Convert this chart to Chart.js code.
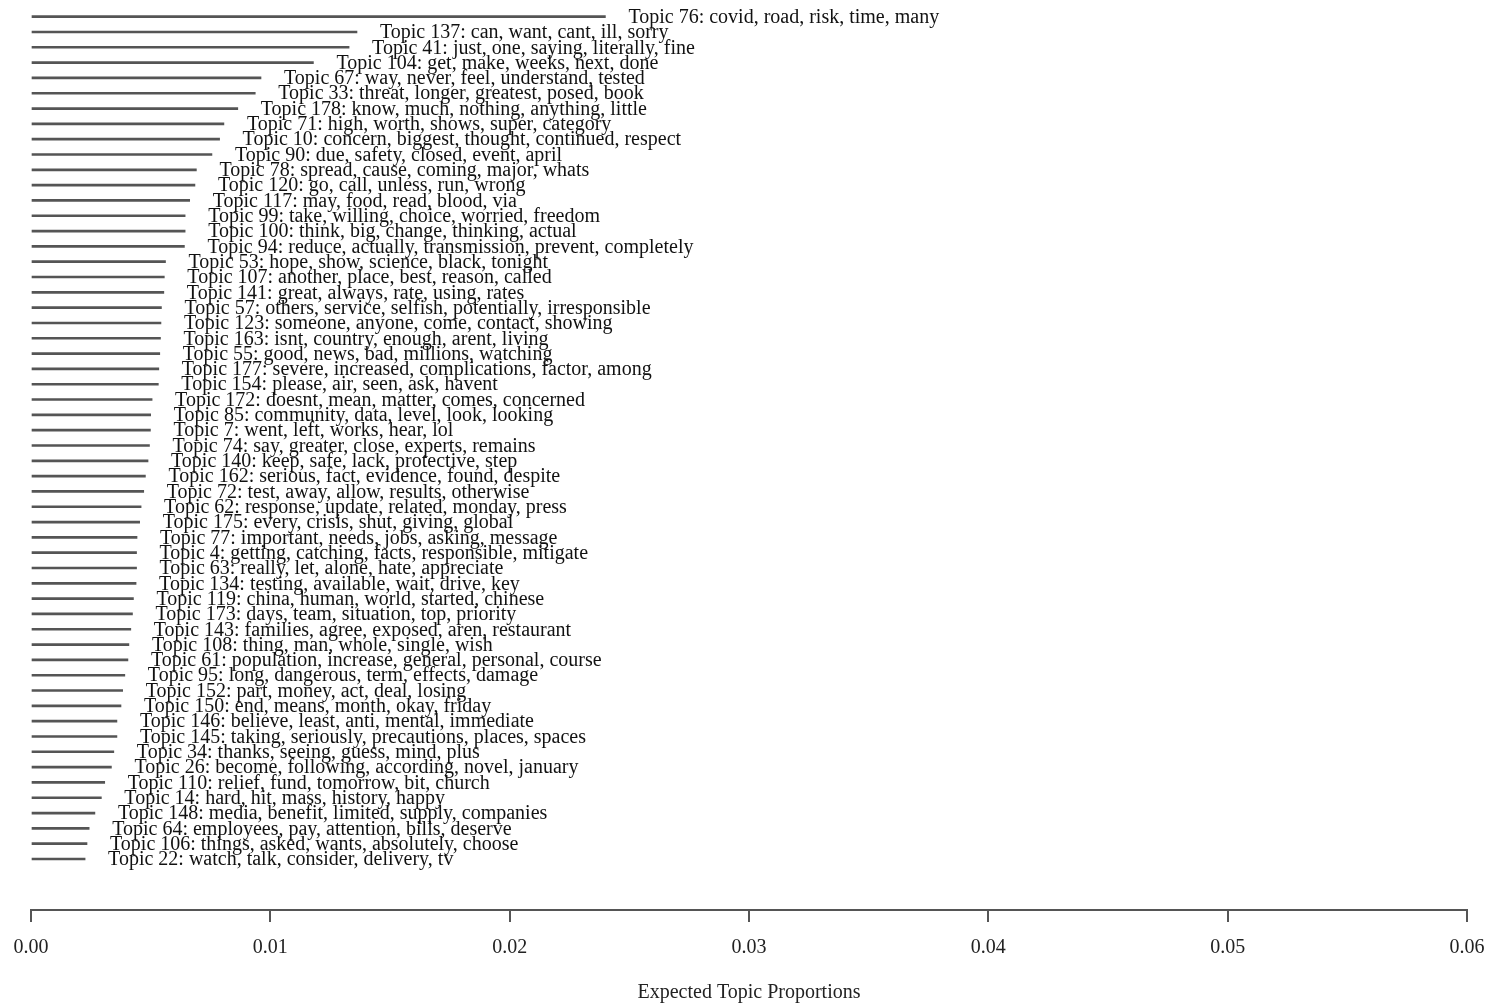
<!DOCTYPE html>
<html>
<head>
<meta charset="utf-8">
<title>Expected Topic Proportions</title>
<script src="https://cdn.jsdelivr.net/npm/chart.js@4.4.1/dist/chart.umd.min.js"></script>
<style>
  html, body { margin: 0; padding: 0; background: #fff; }
  #wrap { width: 1495px; height: 1005px; }
</style>
</head>
<body>
<div id="wrap"><canvas id="topicChart"></canvas></div>
<script>
// Topic labels, top to bottom
const topicLabels = [
  'Topic 76: covid, road, risk, time, many',
  'Topic 137: can, want, cant, ill, sorry',
  'Topic 41: just, one, saying, literally, fine',
  'Topic 104: get, make, weeks, next, done',
  'Topic 67: way, never, feel, understand, tested',
  'Topic 33: threat, longer, greatest, posed, book',
  'Topic 178: know, much, nothing, anything, little',
  'Topic 71: high, worth, shows, super, category',
  'Topic 10: concern, biggest, thought, continued, respect',
  'Topic 90: due, safety, closed, event, april',
  'Topic 78: spread, cause, coming, major, whats',
  'Topic 120: go, call, unless, run, wrong',
  'Topic 117: may, food, read, blood, via',
  'Topic 99: take, willing, choice, worried, freedom',
  'Topic 100: think, big, change, thinking, actual',
  'Topic 94: reduce, actually, transmission, prevent, completely',
  'Topic 53: hope, show, science, black, tonight',
  'Topic 107: another, place, best, reason, called',
  'Topic 141: great, always, rate, using, rates',
  'Topic 57: others, service, selfish, potentially, irresponsible',
  'Topic 123: someone, anyone, come, contact, showing',
  'Topic 163: isnt, country, enough, arent, living',
  'Topic 55: good, news, bad, millions, watching',
  'Topic 177: severe, increased, complications, factor, among',
  'Topic 154: please, air, seen, ask, havent',
  'Topic 172: doesnt, mean, matter, comes, concerned',
  'Topic 85: community, data, level, look, looking',
  'Topic 7: went, left, works, hear, lol',
  'Topic 74: say, greater, close, experts, remains',
  'Topic 140: keep, safe, lack, protective, step',
  'Topic 162: serious, fact, evidence, found, despite',
  'Topic 72: test, away, allow, results, otherwise',
  'Topic 62: response, update, related, monday, press',
  'Topic 175: every, crisis, shut, giving, global',
  'Topic 77: important, needs, jobs, asking, message',
  'Topic 4: getting, catching, facts, responsible, mitigate',
  'Topic 63: really, let, alone, hate, appreciate',
  'Topic 134: testing, available, wait, drive, key',
  'Topic 119: china, human, world, started, chinese',
  'Topic 173: days, team, situation, top, priority',
  'Topic 143: families, agree, exposed, aren, restaurant',
  'Topic 108: thing, man, whole, single, wish',
  'Topic 61: population, increase, general, personal, course',
  'Topic 95: long, dangerous, term, effects, damage',
  'Topic 152: part, money, act, deal, losing',
  'Topic 150: end, means, month, okay, friday',
  'Topic 146: believe, least, anti, mental, immediate',
  'Topic 145: taking, seriously, precautions, places, spaces',
  'Topic 34: thanks, seeing, guess, mind, plus',
  'Topic 26: become, following, according, novel, january',
  'Topic 110: relief, fund, tomorrow, bit, church',
  'Topic 14: hard, hit, mass, history, happy',
  'Topic 148: media, benefit, limited, supply, companies',
  'Topic 64: employees, pay, attention, bills, deserve',
  'Topic 106: things, asked, wants, absolutely, choose',
  'Topic 22: watch, talk, consider, delivery, tv'
];

// Expected topic proportions
const proportions = [
  0.0240, 0.01362, 0.01329, 0.01180, 0.00961, 0.00937, 0.00864, 0.00806,
  0.00788, 0.00756, 0.00691, 0.00685, 0.00663, 0.00644, 0.00644, 0.00641,
  0.00562, 0.00557, 0.00555, 0.00545, 0.00543, 0.00541, 0.00538, 0.00534,
  0.00532, 0.00506, 0.00500, 0.00499, 0.00495, 0.00489, 0.00478, 0.00471,
  0.00460, 0.00454, 0.00443, 0.00441, 0.00441, 0.00439, 0.00428, 0.00424,
  0.00417, 0.00409, 0.00405, 0.00392, 0.00383, 0.00376, 0.00359, 0.00359,
  0.00346, 0.00336, 0.00308, 0.00294, 0.00267, 0.00243, 0.00234, 0.00226
];

const xTicks = [0, 0.01, 0.02, 0.03, 0.04, 0.05, 0.06];

const serif = '"Liberation Serif", "DejaVu Serif", serif';

// writes the topic label to the right of each line
const topicTextPlugin = {
  id: 'topicText',
  afterDatasetsDraw(chart) {
    const c = chart.ctx;
    const meta = chart.getDatasetMeta(0);
    c.save();
    c.font = '20px ' + serif;
    c.fillStyle = '#111';
    c.textBaseline = 'middle';
    c.textAlign = 'left';
    meta.data.forEach((bar, i) => {
      c.fillText(topicLabels[i], bar.x + 23, bar.y + 1);
    });
    c.restore();
  }
};

const ctx = document.getElementById('topicChart').getContext('2d');
const topicChart = new Chart(ctx, {
  type: 'bar',
  data: {
    datasets: [{
      data: proportions.map((v, i) => ({ x: v, y: i })),
      backgroundColor: '#555',
      barThickness: 2,
      borderWidth: 0
    }]
  },
  options: {
    indexAxis: 'y',
    responsive: true,
    maintainAspectRatio: false,
    animation: false,
    layout: { padding: { left: 31, right: 28, top: 9, bottom: 0 } },
    plugins: {
      legend: { display: false },
      tooltip: { enabled: false }
    },
    scales: {
      y: {
        type: 'linear',
        reverse: true,
        offset: false,
        min: -0.5,
        max: 58.33,
        display: false
      },
      x: {
        type: 'linear',
        min: 0,
        max: 0.06,
        afterBuildTicks(scale) {
          scale.ticks = xTicks.map(v => ({ value: v }));
        },
        // let layout padding alone decide the axis ends
        afterFit(scale) {
          scale.paddingLeft = 0;
          scale.paddingRight = 0;
        },
        grid: {
          drawOnChartArea: false,
          drawTicks: true,
          tickLength: 12,
          color: '#555',
          lineWidth: 2
        },
        border: { display: true, color: '#555', width: 2 },
        ticks: {
          padding: 14,
          color: '#222',
          font: { family: serif, size: 20 },
          maxRotation: 0,
          callback: v => Number(v).toFixed(2)
        },
        title: {
          display: true,
          text: 'Expected Topic Proportions',
          color: '#222',
          font: { family: serif, size: 20 },
          padding: { top: 7, bottom: 0 }
        }
      }
    }
  },
  plugins: [topicTextPlugin]
});
</script>
</body>
</html>
